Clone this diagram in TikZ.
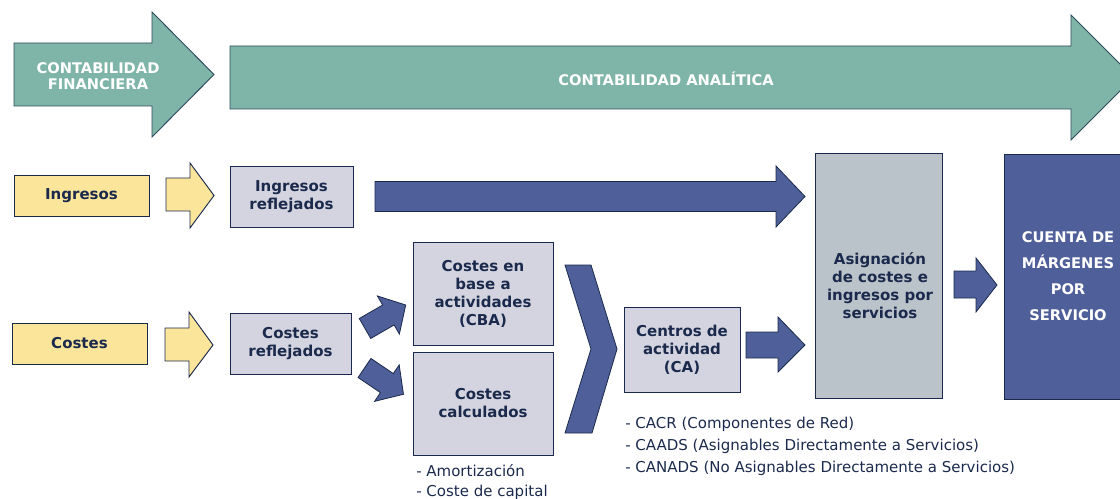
\documentclass[tikz,border=0pt]{standalone}
\usepackage{fontspec}
\setmainfont{DejaVu Sans}
\definecolor{teal1}{HTML}{7FB5A8}
\definecolor{tealedge}{HTML}{2E4A5E}
\definecolor{navy}{HTML}{1B2A4C}
\definecolor{yel}{HTML}{FAE59B}
\definecolor{lbox}{HTML}{D3D4DF}
\definecolor{blu}{HTML}{4F5F99}
\definecolor{gbox}{HTML}{BAC3CA}
\begin{document}
\begin{tikzpicture}[x=0.75pt,y=-0.75pt,
  edge/.style={draw=navy,line width=0.7pt},
  tealarrow/.style={fill=teal1,draw=tealedge,line width=0.7pt,line join=miter},
  yelarrow/.style={fill=yel,draw=navy,line width=0.7pt},
  bluarrow/.style={fill=blu,draw=navy,line width=0.6pt},
  txt/.style={inner sep=0pt,align=center,text=navy,font=\bfseries\fontsize{11.25}{13.5}\selectfont},
  box/.style={txt,edge},
  ybox/.style={box,fill=yel},
  lbx/.style={box,fill=lbox},
  whitetxt/.style={text=white,align=center,font=\bfseries\fontsize{11}{12.5}\selectfont},
  note/.style={anchor=west,inner sep=0pt,text=navy,font=\fontsize{11.25}{13.5}\selectfont},
]
\useasboundingbox (0,0) rectangle (1120,499);
\clip (0,0) rectangle (1120,499);

% top teal arrows
\path[tealarrow] (14,43) -- (152,43) -- (152,12) -- (214,74.5) -- (152,137) -- (152,106) -- (14,106) -- cycle;
\node[whitetxt] (cf) at (98,76) {CONTABILIDAD\\FINANCIERA};
\path[tealarrow] (230,46) -- (1071,46) -- (1071,15) -- (1133.5,77.5) -- (1071,140) -- (1071,109) -- (230,109) -- cycle;
\node[whitetxt] (ca0) at (666,79) {CONTABILIDAD ANALÍTICA};

% boxes
\node[ybox,minimum width=135*0.75pt,minimum height=41*0.75pt] (ing) at (81.5,195.5) {Ingresos};
\node[ybox,minimum width=135*0.75pt,minimum height=41*0.75pt] (cos) at (79.5,343.5) {Costes};
\node[lbx,minimum width=123*0.75pt,minimum height=61*0.75pt] (ingref) at (291.5,196.5) {Ingresos\\reflejados};
\node[lbx,minimum width=121*0.75pt,minimum height=61*0.75pt] (cosref) at (290.5,343.5) {Costes\\reflejados};
\node[lbx,minimum width=140*0.75pt,minimum height=103*0.75pt] (cba) at (483,293.5) {Costes en\\base a\\actividades\\(CBA)};
\node[lbx,minimum width=140*0.75pt,minimum height=103*0.75pt] (calc) at (483,403.5) {Costes\\calculados};
\node[lbx,minimum width=116*0.75pt,minimum height=85*0.75pt] (ca) at (682,349.5) {Centros de\\actividad\\(CA)};
\node[box,fill=gbox,minimum width=127*0.75pt,minimum height=245*0.75pt] (asig) at (878.5,275.5) {};
\node[txt] (asigt) at (880,286) {Asignación\\de costes e\\ingresos por\\servicios};
\node[box,fill=blu,text=white,minimum width=128*0.75pt,minimum height=245*0.75pt,font=\bfseries\fontsize{11}{19.5}\selectfont] (cuenta) at (1068,276.5) {CUENTA DE\\MÁRGENES\\POR\\SERVICIO};

% yellow arrows
\path[yelarrow] (166,178) -- (190,178) -- (190,163) -- (214,195.5) -- (190,228) -- (190,211) -- (166,211) -- cycle;
\path[yelarrow] (165,328) -- (189,328) -- (189,312) -- (213,345) -- (189,377) -- (189,361) -- (165,361) -- cycle;

% blue arrows
\path[bluarrow] (375,181.5) -- (776,181.5) -- (776,166) -- (805,196.5) -- (776,227) -- (776,211.5) -- (375,211.5) -- cycle;
\path[bluarrow] (746,332) -- (778,332) -- (778,317) -- (805,345) -- (778,372) -- (778,358) -- (746,358) -- cycle;
\path[bluarrow] (954,271) -- (976,271) -- (976,258) -- (997,285) -- (976,312) -- (976,298) -- (954,298) -- cycle;
\begin{scope}[shift={(365,328.5)},rotate=30]
\path[bluarrow] (0,-11.5) -- (27,-11.5) -- (27,-22) -- (47,0) -- (27,22) -- (27,11.5) -- (0,11.5) -- cycle;
\end{scope}
\begin{scope}[shift={(364.5,368)},rotate=-34]
\path[bluarrow] (0,-11.5) -- (27,-11.5) -- (27,-22) -- (47,0) -- (27,22) -- (27,11.5) -- (0,11.5) -- cycle;
\end{scope}
% chevron
\path[bluarrow] (565,265) -- (591,265) -- (617,349) -- (592,433) -- (565,433) -- (591,349) -- cycle;

% notes
\node[note] (n1) at (416,471) {- Amortización};
\node[note] (n2) at (416,492) {- Coste de capital};
\node[note] (n3) at (625,424) {- CACR (Componentes de Red)};
\node[note] (n4) at (625,446) {- CAADS (Asignables Directamente a Servicios)};
\node[note] (n5) at (625,468) {- CANADS (No Asignables Directamente a Servicios)};
\end{tikzpicture}
\end{document}
